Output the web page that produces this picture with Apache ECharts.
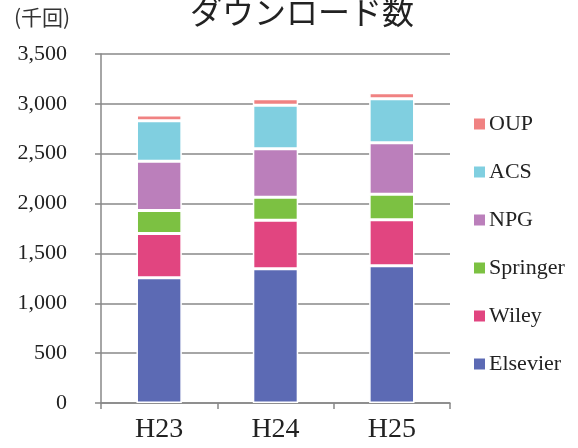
<!DOCTYPE html>
<html>
<head>
<meta charset="utf-8">
<script src="https://cdn.jsdelivr.net/npm/echarts@6/dist/echarts.min.js"></script>
<style>
  html, body { margin: 0; padding: 0; background: #fff; }
  #chart { width: 578px; height: 448px; }
</style>
</head>
<body>
<div id="chart"></div>
<script>
  // 年度
  var years = ['H23', 'H24', 'H25'];
  // 出版社ごとのダウンロード数 (千回)
  var elsevier = [1255, 1347, 1377];
  var wiley = [445, 485, 461];
  var springer = [230, 231, 255];
  var npg = [495, 487, 518];
  var acs = [405, 436, 440];
  var oup = [58, 66, 60];
  var yTicks = [0, 500, 1000, 1500, 2000, 2500, 3000, 3500];

  var serif = '"Liberation Serif", "DejaVu Serif", serif';
  var jp = '"Noto Sans CJK JP", sans-serif';

  function bar(name, data, color) {
    return {
      name: name,
      type: 'bar',
      stack: 'total',
      barWidth: '39%',
      data: data,
      itemStyle: { color: color, borderColor: '#fff', borderWidth: 1.5 }
    };
  }

  var chart = echarts.init(document.getElementById('chart'));
  chart.setOption({
    animation: false,
    title: {
      text: 'ダウンロード数',
      left: 297,
      textAlign: 'center',
      top: -9,
      textStyle: { fontFamily: jp, fontSize: 32, fontWeight: 'normal', color: '#222' }
    },
    graphic: [{
      type: 'text',
      left: 14,
      top: 7,
      style: { text: '(千回)', font: '21px ' + jp, fill: '#333' }
    }],
    legend: {
      orient: 'vertical',
      left: 467,
      top: 108,
      itemGap: 26,
      itemWidth: 13,
      itemHeight: 13,
      icon: 'rect',
      data: ['OUP', 'ACS', 'NPG', 'Springer', 'Wiley', 'Elsevier'],
      textStyle: { fontFamily: serif, fontSize: 22, color: '#222', padding: [0, 0, 0, -2] }
    },
    grid: { left: 101, right: 128, top: 54, bottom: 45 },
    xAxis: {
      type: 'category',
      data: years,
      axisLine: { lineStyle: { color: '#888', width: 1.5 } },
      axisTick: { show: true, length: 6, lineStyle: { color: '#888', width: 1.5 } },
      axisLabel: { fontFamily: serif, fontSize: 28, color: '#222', margin: 13 }
    },
    yAxis: {
      type: 'value',
      min: 0,
      max: 3500,
      interval: 500,
      axisLine: { show: true, lineStyle: { color: '#888', width: 1.5 } },
      axisTick: { show: true, length: 6, lineStyle: { color: '#888', width: 1.5 } },
      splitLine: { lineStyle: { color: '#888', width: 1.5 } },
      axisLabel: {
        fontFamily: serif, fontSize: 22, color: '#222', margin: 34,
        formatter: function (v) {
          return yTicks.indexOf(v) >= 0 ? v.toLocaleString('en-US') : '';
        }
      }
    },
    series: [
      bar('Elsevier', elsevier, '#5c6ab4'),
      bar('Wiley', wiley, '#e14580'),
      bar('Springer', springer, '#7cc142'),
      bar('NPG', npg, '#bb7fbb'),
      bar('ACS', acs, '#80cfe0'),
      bar('OUP', oup, '#f08282')
    ]
  });
</script>
</body>
</html>
